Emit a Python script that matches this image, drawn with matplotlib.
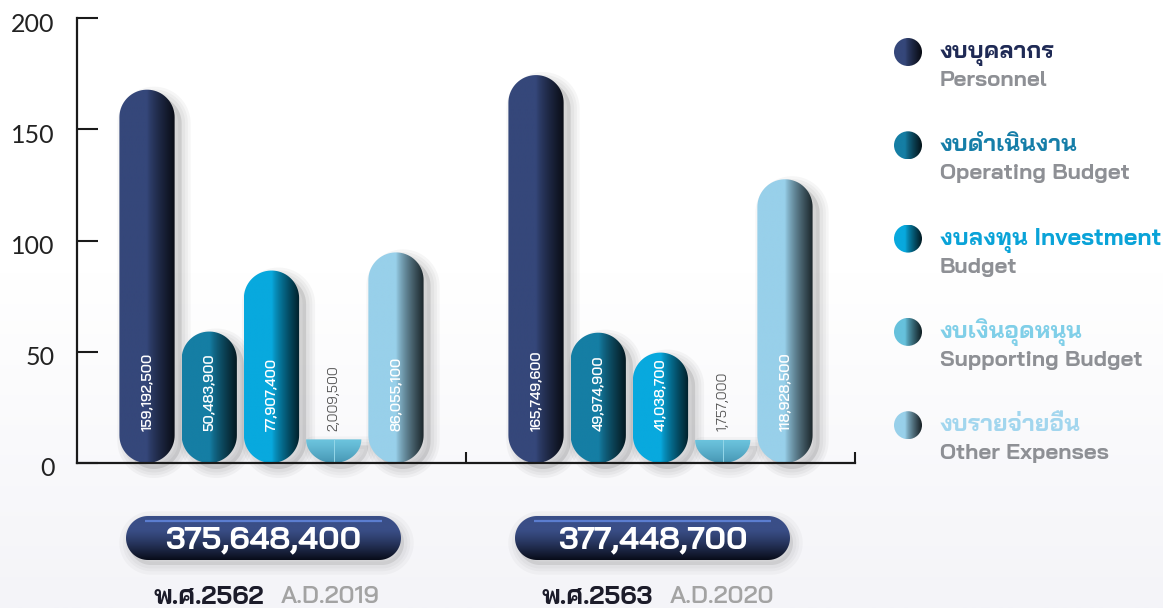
import numpy as np
import matplotlib
matplotlib.use("Agg")
import matplotlib.pyplot as plt
from matplotlib.path import Path
from matplotlib.patches import PathPatch, Circle
from matplotlib.colors import to_rgb
import matplotlib.transforms as mtransforms

# ---------------- data ----------------
years_th = ["พ.ศ.2562", "พ.ศ.2563"]
years_en = ["A.D.2019", "A.D.2020"]
totals = ["375,648,400", "377,448,700"]
categories_th = ["งบบุคลากร", "งบดำเนินงาน", "งบลงทุน Investment", "งบเงินอุดหนุน", "งบรายจ่ายอื่น"]
categories_en = ["Personnel", "Operating Budget", "Budget", "Supporting Budget", "Other Expenses"]
values_2562 = [159192500, 50483900, 77907400, 2009500, 86055100]
values_2563 = [165749600, 49974900, 41038700, 1757000, 118928500]
series = [values_2562, values_2563]
yticks = [0, 50, 100, 150, 200]

# ---------------- style ----------------
bar_colors = ["#35477a", "#157ea4", "#08a9de", "#66c1dc", "#98d0ea"]
legend_text_colors = ["#1f2a55", "#167ea8", "#0aa3d8", "#80cfe8", "#a2d6ee"]
BAR_STEP = 0.16
BAR_W = 0.142
CAP_EXTRA = 8.6
LABEL_Y = 14.4

plt.rcParams['font.family'] = ['Bai Jamjuree', 'DejaVu Sans']

W, H = 1163, 608
fig = plt.figure(figsize=(W / 100, H / 100), dpi=100)

# background / overlay axes in pixel coordinates
bg = fig.add_axes([0, 0, 1, 1], zorder=0)
bg.set_xlim(0, W)
bg.set_ylim(H, 0)
bg.axis('off')
yy = np.linspace(0, 1, 300)
top_c = np.array([1.0, 1.0, 1.0])
bot_c = np.array(to_rgb("#f4f4f8"))
s_bg = np.clip((yy - 0.45) / 0.55, 0, 1)
bg_arr = (top_c[None, :] * (1 - s_bg[:, None]) + bot_c[None, :] * s_bg[:, None])[:, None, :]
bg.imshow(bg_arr, extent=[0, W, H, 0], aspect='auto', zorder=0, interpolation='bilinear')

# main axes
ax = fig.add_axes([77 / W, (H - 463) / H, (855 - 77) / W, (463 - 18) / H], zorder=1)
ax.patch.set_alpha(0)
ax.set_xlim(-0.5, 1.5)
ax.set_ylim(0, 200)

p = ax.transData.transform([[0, 0], [1, 1]])
ppx = p[1, 0] - p[0, 0]
ppy = p[1, 1] - p[0, 1]


def mix(c1, c2, s):
    return c1[None, :] * (1 - s[:, None]) + c2[None, :] * s[:, None]


def hgrad(color, start=0.5, dark=0.18, n=200):
    base = np.array(to_rgb(color))
    t = np.linspace(0, 1, n)
    s = np.clip((t - start) / (1 - start), 0, 1) ** 0.8
    return mix(base, base * dark, s)[None, :, :]


def pill_path(cx, hw, h, ry, n=40):
    if h < 2 * ry:
        th = np.linspace(0, -np.pi, n)
        xs = np.concatenate([[cx - hw], cx + hw * np.cos(th)])
        ys = np.concatenate([[h], h + h * np.sin(th)])
    else:
        t1 = np.linspace(np.pi, 2 * np.pi, n)
        t2 = np.linspace(0, np.pi, n)
        xs = np.concatenate([cx + hw * np.cos(t1), cx + hw * np.cos(t2)])
        ys = np.concatenate([ry + ry * np.sin(t1), (h - ry) + ry * np.sin(t2)])
    verts = np.column_stack([xs, ys])
    verts = np.vstack([verts, verts[:1]])
    codes = [Path.MOVETO] + [Path.LINETO] * (len(verts) - 2) + [Path.CLOSEPOLY]
    return Path(verts, codes)


def add_shadow(axis, path, dx, dy, z, strength=1.0, widths=(13, 9, 5)):
    sp = Path(path.vertices + np.array([dx, dy]), path.codes)
    axis.add_patch(PathPatch(sp, fc=(0, 0, 0, 0.10 * strength), ec='none',
                             zorder=z, clip_on=False))
    for lw in widths:
        axis.add_patch(PathPatch(sp, fc='none', ec=(0, 0, 0, 0.035 * strength), lw=lw,
                                 zorder=z, clip_on=False, joinstyle='round'))


# bars
for g, vals in enumerate(series):
    for i, v in enumerate(vals):
        cx = g + (i - 2) * BAR_STEP
        hw = BAR_W / 2
        h = v / 1e6 + CAP_EXTRA
        ry = hw * ppx / ppy
        path = pill_path(cx, hw, h, ry)
        bowl = h < 2 * ry
        add_shadow(ax, path, 7 / ppx, -6 / ppy, 1.5, 0.8 if bowl else 1.0)
        patch = PathPatch(path, fc='none', ec='none', zorder=2)
        ax.add_patch(patch)
        if bowl:
            top = np.array(to_rgb("#6cc4de"))
            bot = np.array(to_rgb("#4696b3"))
            arr = mix(top, bot, np.linspace(0, 1, 100) ** 1.2)[:, None, :]
            im = ax.imshow(arr, extent=[cx - hw, cx + hw, 0, h], origin='upper',
                           aspect='auto', zorder=2, interpolation='bilinear')
            im.set_clip_path(patch)
            ax.plot([cx, cx], [0.4, h], color="#94d6e8", lw=0.7, zorder=2.1)
        else:
            im = ax.imshow(hgrad(bar_colors[i]), extent=[cx - hw, cx + hw, 0, h],
                           aspect='auto', zorder=2, interpolation='bilinear')
            im.set_clip_path(patch)
        ax.text(cx, LABEL_Y, f"{v:,}", rotation=90, ha='center', va='bottom',
                color="#555555" if bowl else "white", fontsize=10,
                fontweight='normal' if bowl else 'semibold', zorder=5)

ax.set_xlim(-0.5, 1.5)
ax.set_ylim(0, 200)

# axes styling
for side in ('top', 'right'):
    ax.spines[side].set_visible(False)
for side in ('left', 'bottom'):
    ax.spines[side].set_linewidth(1.6)
    ax.spines[side].set_color("#1a1a1a")
ax.set_yticks(yticks)
ax.set_yticklabels([str(t) for t in yticks])
ax.tick_params(axis='y', direction='in', length=15, width=1.5, color="#1a1a1a",
               pad=16, labelsize=18, labelcolor="#222222")
ax.set_xticks([0.5, 1.5])
ax.tick_params(axis='x', direction='in', length=8, width=1.5, color="#1a1a1a",
               labelbottom=False)
offset = mtransforms.ScaledTranslation(0, -4 / 100, fig.dpi_scale_trans)
for lab in ax.get_yticklabels():
    lab.set_fontfamily(['Lato', 'DejaVu Sans'])
    lab.set_transform(lab.get_transform() + offset)

# totals pills and year labels (pixel coords on overlay axes)
for g in range(len(series)):
    gx = ax.transData.transform((g, 0))[0]
    pcx = gx - 8
    pw, ph = 275, 44
    pcy = 538
    r = ph / 2
    t1 = np.linspace(np.pi / 2, 3 * np.pi / 2, 40)
    t2 = np.linspace(-np.pi / 2, np.pi / 2, 40)
    lx = pcx - pw / 2 + r
    rx = pcx + pw / 2 - r
    xs = np.concatenate([lx + r * np.cos(t1), rx + r * np.cos(t2)])
    ys = np.concatenate([pcy - r * np.sin(t1), pcy - r * np.sin(t2)])
    verts = np.column_stack([xs, ys])
    verts = np.vstack([verts, verts[:1]])
    codes = [Path.MOVETO] + [Path.LINETO] * (len(verts) - 2) + [Path.CLOSEPOLY]
    tpath = Path(verts, codes)
    add_shadow(bg, tpath, 3, 5, 2, 0.8, widths=(14, 9, 5))
    tp = PathPatch(tpath, fc='none', ec='none', zorder=3)
    bg.add_patch(tp)
    tt = np.linspace(0, 1, 120)
    s = np.clip((tt - 0.3) / 0.7, 0, 1) ** 1.2
    arr = mix(np.array(to_rgb("#3a4e87")), np.array(to_rgb("#080c19")), s)[:, None, :]
    im = bg.imshow(arr, extent=[pcx - pw / 2, pcx + pw / 2, pcy + r, pcy - r],
                   aspect='auto', zorder=3, interpolation='bilinear')
    im.set_clip_path(tp)
    bg.plot([pcx - pw / 2 + 19, pcx + pw / 2 - 19], [pcy - r + 4.5, pcy - r + 4.5],
            color="#5b7dd0", lw=1.6, zorder=4, solid_capstyle='butt')
    bg.text(pcx, pcy + 2, totals[g], ha='center', va='center', color='white',
            fontsize=23, fontweight='bold', zorder=5)
    bg.text(gx - 8, 597, years_th[g], ha='right', va='center', color="#1c1c2a",
            fontsize=18.5, fontweight='bold', zorder=5)
    bg.text(gx + 9, 597, years_en[g], ha='left', va='center', color="#a3a3a3",
            fontsize=17.5, fontweight='semibold', zorder=5)

# legend
for i in range(len(categories_th)):
    cy = 52 + i * 93.3
    cxl, rr = 908, 14
    circ = Circle((cxl, cy), rr, fc='none', ec='none', zorder=3)
    bg.add_patch(circ)
    im = bg.imshow(hgrad(bar_colors[i], start=0.4, dark=0.15),
                   extent=[cxl - rr, cxl + rr, cy + rr, cy - rr],
                   aspect='auto', zorder=3, interpolation='bilinear')
    im.set_clip_path(circ)
    bg.text(940, cy + 6, categories_th[i], ha='left', va='baseline',
            color=legend_text_colors[i], fontsize=17, fontweight='bold', zorder=5)
    bg.text(940, cy + 34, categories_en[i], ha='left', va='baseline',
            color="#8e9095", fontsize=16, fontweight='bold', zorder=5)

bg.set_xlim(0, W)
bg.set_ylim(H, 0)

fig.savefig("out.png", dpi=100)
